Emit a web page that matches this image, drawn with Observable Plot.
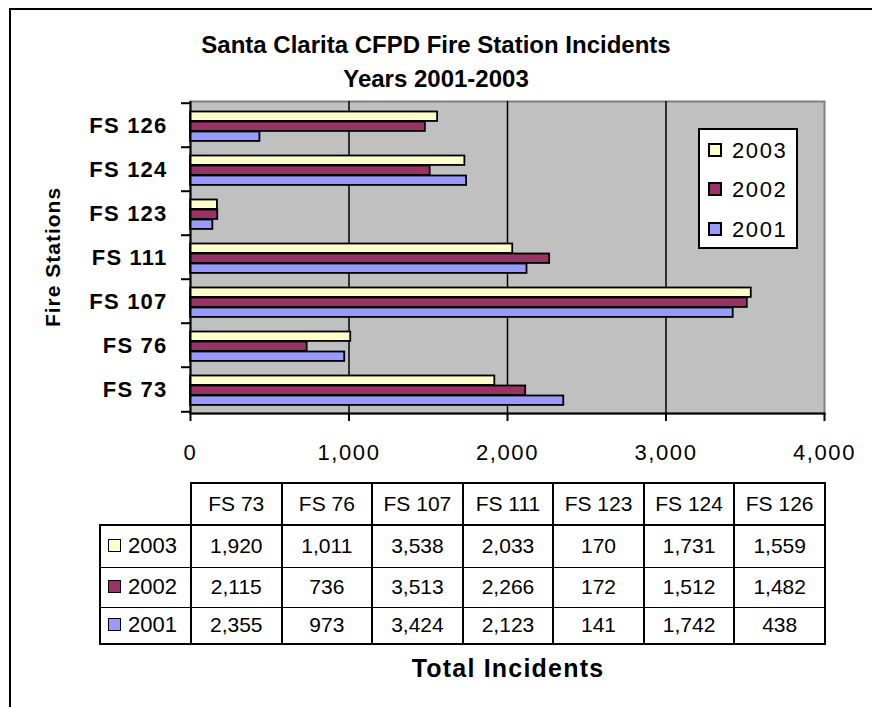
<!DOCTYPE html>
<html>
<head>
<meta charset="utf-8">
<script src="https://cdn.jsdelivr.net/npm/d3@7"></script>
<script src="https://cdn.jsdelivr.net/npm/@observablehq/plot@0.6"></script>
<style>
  html, body { margin: 0; padding: 0; background: #fff; }
  body { width: 872px; height: 707px; position: relative; overflow: hidden;
         font-family: "Liberation Sans", Arial, sans-serif; color: #000; }
  #frame { position: absolute; left: 9px; top: 8px; width: 900px; height: 760px;
           border-left: 2px solid #000; border-top: 2px solid #000; }
  #chart { position: absolute; left: 0; top: 0; }
  #chart svg { overflow: visible; }
  #chart g[aria-label="x-axis tick label"] text { letter-spacing: 1.6px; }
  #chart g[aria-label="y-axis tick label"] text { letter-spacing: 1.2px; }
  .title { position: absolute; left: 0; width: 872px; text-align: center; font-weight: bold;
           font-size: 24px; height: 30px; line-height: 30px; }
  #ytitle { position: absolute; left: 53px; top: 257px; transform: translate(-50%, -50%) rotate(-90deg);
            font-weight: bold; font-size: 21px; letter-spacing: 1px; white-space: nowrap; }
  #legend { position: absolute; left: 698px; top: 128px; width: 96px; height: 117px;
            border: 2px solid #000; background: #fff; }
  .litem { position: absolute; left: 8px; height: 30px; line-height: 30px; font-size: 22px;
           letter-spacing: 1.6px; white-space: nowrap; }
  .lkey { display: inline-block; width: 14px; height: 14px; box-sizing: border-box;
          border: 2px solid #000; vertical-align: middle; margin-right: 10px; position: relative; top: -2px; }
  #tbl { position: absolute; left: 99px; top: 482px; border-collapse: collapse; table-layout: fixed;
         font-size: 21px; }
  #tbl td { padding: 0; text-align: center; vertical-align: middle; border: 2px solid #000; white-space: nowrap; }
  #tbl td.corner { border-top: none; border-left: none; }
  #tbl tr.body td { border-top: 1px solid #000; border-bottom: 1px solid #000; }
  #tbl tr.body:first-of-type td { border-top: 2px solid #000; }
  #tbl tr.body.last td { border-bottom: 2px solid #000; }
  #tbl td.lab { text-align: left; padding-left: 7px; font-size: 22px; }
  .tkey { display: inline-block; width: 13px; height: 13px; box-sizing: border-box;
          border: 1.5px solid #000; vertical-align: middle; margin-right: 7px; position: relative; top: -2px; }
  #xtitle { position: absolute; left: 408px; width: 200px; top: 653px; height: 30px; line-height: 30px;
            text-align: center; font-weight: bold; font-size: 25px; letter-spacing: 1.2px; white-space: nowrap; }
</style>
</head>
<body>
<div id="frame"></div>
<div class="title" style="top:30px">Santa Clarita CFPD Fire Station Incidents</div>
<div class="title" style="top:64px">Years 2001-2003</div>
<div id="chart"></div>
<div id="ytitle">Fire Stations</div>
<div id="legend"></div>
<table id="tbl"></table>
<div id="xtitle">Total Incidents</div>
<script>
// ---- data ----
const stations = ["FS 73", "FS 76", "FS 107", "FS 111", "FS 123", "FS 124", "FS 126"];
const years = ["2003", "2002", "2001"];
const incidents2003 = [1920, 1011, 3538, 2033, 170, 1731, 1559];
const incidents2002 = [2115, 736, 3513, 2266, 172, 1512, 1482];
const incidents2001 = [2355, 973, 3424, 2123, 141, 1742, 438];
const yearColors = ["#ffffcc", "#993366", "#9999ff"];
const xTicks = [0, 1000, 2000, 3000, 4000];

const seriesValues = [incidents2003, incidents2002, incidents2001];
const series = years.map((y, k) => ({year: y, values: seriesValues[k], color: yearColors[k]}));

// ---- layout ----
const W = 872, H = 470, mT = 101, mB = 57, mL = 190, mR = 48;
const bw = (H - mT - mB) / stations.length;
const barH = 10, topPad = 8.5;
const fmt = d3.format(",");
const stationOrder = stations.slice().reverse(); // FS 126 at top

const plot = Plot.plot({
  width: W, height: H,
  marginTop: mT, marginBottom: mB, marginLeft: mL, marginRight: mR,
  style: {fontFamily: '"Liberation Sans", Arial, sans-serif', color: "#000", background: "transparent"},
  x: {domain: [xTicks[0], xTicks[xTicks.length - 1]], label: null},
  y: {domain: stationOrder, padding: 0, label: null},
  marks: [
    Plot.frame({fill: "#c0c0c0", stroke: "#808080", strokeWidth: 2}),
    Plot.ruleX(xTicks.slice(1, -1), {stroke: "#000", strokeWidth: 1.5}),
    ...series.map((s, k) => Plot.barX(stations, {
      y: d => d,
      x1: 0,
      x2: (d, i) => s.values[i],
      fill: s.color,
      stroke: "#000",
      strokeWidth: 1.8,
      insetTop: topPad + k * barH,
      insetBottom: bw - topPad - (k + 1) * barH
    })),
    Plot.ruleX([xTicks[0]], {stroke: "#000", strokeWidth: 2}),
    Plot.frame({anchor: "bottom", stroke: "#000", strokeWidth: 2}),
    Plot.ruleY(stations, {y: d => d, x1: 0, x2: 0, insetLeft: -9, dy: -bw / 2, stroke: "#000", strokeWidth: 2}),
    Plot.ruleY([stations[0]], {y: d => d, x1: 0, x2: 0, insetLeft: -9, dy: bw / 2, stroke: "#000", strokeWidth: 2}),
    Plot.axisX({ticks: xTicks, tickSize: 8, tickPadding: 23, tickFormat: fmt, fontSize: 22, stroke: "#000", strokeWidth: 2}),
    Plot.axisY({tickSize: 0, tickPadding: 23, fontSize: 22, fontWeight: "bold"})
  ]
});
document.getElementById("chart").appendChild(plot);

// ---- legend (inside plot area) ----
const legend = document.getElementById("legend");
const legendCenters = [151, 190, 230];
series.forEach((s, k) => {
  const item = document.createElement("div");
  item.className = "litem";
  item.style.top = (legendCenters[k] - 128 - 2 - 15) + "px";
  item.innerHTML = `<span class="lkey" style="background:${s.color}"></span>${s.year}`;
  legend.appendChild(item);
});

// ---- data table ----
const tbl = document.getElementById("tbl");
const colW = (W - mL - mR) / stations.length;
const cg = document.createElement("colgroup");
cg.innerHTML = `<col style="width:91px">` + stations.map(() => `<col style="width:${colW}px">`).join("");
tbl.appendChild(cg);
const hdr = document.createElement("tr");
hdr.style.height = "42px";
hdr.innerHTML = `<td class="corner"></td>` + stations.map(s => `<td>${s}</td>`).join("");
tbl.appendChild(hdr);
const rowHeights = [42, 40, 37];
series.forEach((s, k) => {
  const tr = document.createElement("tr");
  tr.className = "body" + (k === series.length - 1 ? " last" : "");
  tr.style.height = rowHeights[k] + "px";
  tr.innerHTML = `<td class="lab"><span class="tkey" style="background:${s.color}"></span>${s.year}</td>` +
    s.values.map(v => `<td>${fmt(v)}</td>`).join("");
  tbl.appendChild(tr);
});
</script>
</body>
</html>
